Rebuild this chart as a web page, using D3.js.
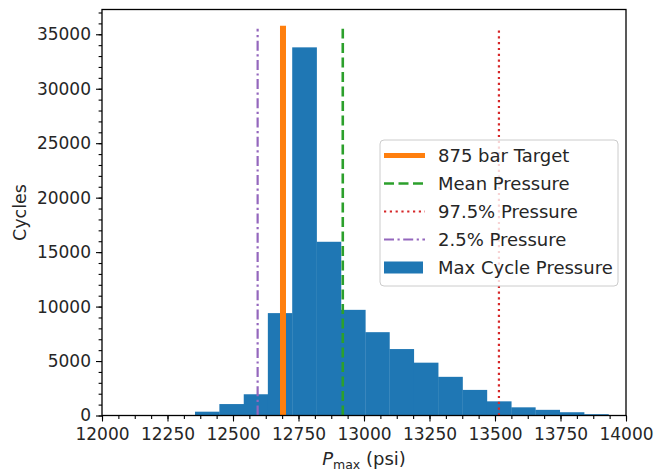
<!DOCTYPE html>
<html>
<head>
<meta charset="utf-8">
<script src="https://cdn.jsdelivr.net/npm/d3@7"></script>
<style>
  body { margin: 0; background: #fff; }
  text { font-family: "DejaVu Sans", sans-serif; fill: #262626; }
</style>
</head>
<body>
<svg id="chart" width="657" height="474"></svg>
<script>
// histogram bin edges (psi) and counts per bin
const binEdges = [12355, 12448, 12541, 12633, 12726, 12819, 12912, 13005, 13097,
                  13190, 13283, 13376, 13469, 13562, 13654, 13747, 13840, 13933];
const cycleCounts = [350, 1050, 1950, 9400, 33800, 15950, 9700, 7650, 6100,
                     4850, 3550, 2350, 1300, 750, 520, 300, 120];

const xTicks = [12000, 12250, 12500, 12750, 13000, 13250, 13500, 13750, 14000];
const yTicks = [0, 5000, 10000, 15000, 20000, 25000, 30000, 35000];

// reference pressures (psi)
const refLines = [
  { name: "875 bar Target", value: 12690.8, color: "#ff7f0e", width: 6, dash: null },
  { name: "Mean Pressure", value: 12919, color: "#2ca02c", width: 2.6, dash: "10,4.5" },
  { name: "97.5% Pressure", value: 13515, color: "#d62728", width: 2.2, dash: "2.2,3.6" },
  { name: "2.5% Pressure", value: 12594, color: "#9467bd", width: 2.2, dash: "10,3.5,2.2,3.5" }
];
const lineTop = 35500;

const svg = d3.select("#chart");
const width = +svg.attr("width");
const height = +svg.attr("height");
const margin = { top: 9.5, right: 31, bottom: 58.5, left: 102 };

const x = d3.scaleLinear().domain([12000, 14000]).range([margin.left, width - margin.right]);
const y = d3.scaleLinear().domain([0, 37275]).range([height - margin.bottom, margin.top]);

const bins = cycleCounts.map((c, i) => ({ x0: binEdges[i], x1: binEdges[i + 1], n: c }));

// bars
svg.append("g")
  .selectAll("rect").data(bins)
  .enter().append("rect")
    .attr("x", d => x(d.x0))
    .attr("width", d => x(d.x1) - x(d.x0) + 0.3)
    .attr("y", d => y(d.n))
    .attr("height", d => y(0) - y(d.n))
    .attr("fill", "#1f77b4");

// vertical lines
svg.append("g")
  .selectAll("line").data(refLines)
  .enter().append("line")
    .attr("x1", d => x(d.value))
    .attr("x2", d => x(d.value))
    .attr("y1", y(0))
    .attr("y2", d => d.dash ? y(lineTop) : y(lineTop) - 3)
    .attr("stroke", d => d.color)
    .attr("stroke-width", d => d.width)
    .attr("stroke-dasharray", d => d.dash);

// axes
const xAxis = svg.append("g")
  .attr("transform", `translate(0,${y(0)})`)
  .call(d3.axisBottom(x).tickValues(xTicks).tickSize(6).tickPadding(6).tickFormat(d3.format("d")));
const xMinor = svg.append("g")
  .attr("transform", `translate(0,${y(0)})`)
  .call(d3.axisBottom(x).tickValues(d3.range(12000, 14001, 62.5)).tickSize(3.4).tickFormat(""));
const yAxis = svg.append("g")
  .attr("transform", `translate(${margin.left},0)`)
  .call(d3.axisLeft(y).tickValues(yTicks).tickSize(6).tickPadding(5).tickFormat(d3.format("d")));
const yMinor = svg.append("g")
  .attr("transform", `translate(${margin.left},0)`)
  .call(d3.axisLeft(y).tickValues(d3.range(0, 37001, 1000)).tickSize(3.4).tickFormat(""));

[xAxis, xMinor, yAxis, yMinor].forEach(g => {
  g.select(".domain").remove();
  g.selectAll("line").attr("stroke", "#000").attr("stroke-width", 1.1);
  g.selectAll("text").style("font-size", "17px").attr("fill", "#262626");
});

// frame
svg.append("rect")
  .attr("x", margin.left).attr("y", margin.top)
  .attr("width", width - margin.left - margin.right)
  .attr("height", height - margin.top - margin.bottom)
  .attr("fill", "none").attr("stroke", "#000").attr("stroke-width", 1.3);

// axis labels
svg.append("text")
  .attr("transform", `translate(20,${(margin.top + height - margin.bottom) / 2}) rotate(-90)`)
  .attr("text-anchor", "middle")
  .attr("dominant-baseline", "central")
  .style("font-size", "17.5px")
  .text("Cycles");

const xl = svg.append("text")
  .attr("x", (margin.left + width - margin.right) / 2)
  .attr("y", 465)
  .attr("text-anchor", "middle")
  .style("font-size", "18px");
xl.append("tspan").style("font-style", "italic").text("P");
xl.append("tspan").attr("dy", 4).style("font-size", "12.5px").text("max");
xl.append("tspan").attr("dy", -4).text(" (psi)");

// legend
const lg = svg.append("g");
lg.append("rect")
  .attr("x", 380).attr("y", 140).attr("width", 238).attr("height", 146)
  .attr("rx", 4)
  .attr("fill", "#fff").attr("fill-opacity", 0.8)
  .attr("stroke", "#ccc").attr("stroke-width", 1);

const rowY = i => 155.5 + i * 28;
const items = lg.selectAll(".item").data(refLines)
  .enter().append("g").attr("class", "item");
items.append("line")
  .attr("x1", 384).attr("x2", 425)
  .attr("y1", (d, i) => rowY(i)).attr("y2", (d, i) => rowY(i))
  .attr("stroke", d => d.color)
  .attr("stroke-width", d => d.dash ? d.width : 5)
  .attr("stroke-dasharray", d => d.dash);
items.append("text")
  .attr("x", 438).attr("y", (d, i) => rowY(i))
  .attr("dominant-baseline", "central")
  .style("font-size", "18px")
  .text(d => d.name);

lg.append("rect")
  .attr("x", 384).attr("y", rowY(4) - 6).attr("width", 39).attr("height", 12)
  .attr("fill", "#1f77b4");
lg.append("text")
  .attr("x", 438).attr("y", rowY(4))
  .attr("dominant-baseline", "central")
  .style("font-size", "18px")
  .text("Max Cycle Pressure");
</script>
</body>
</html>
